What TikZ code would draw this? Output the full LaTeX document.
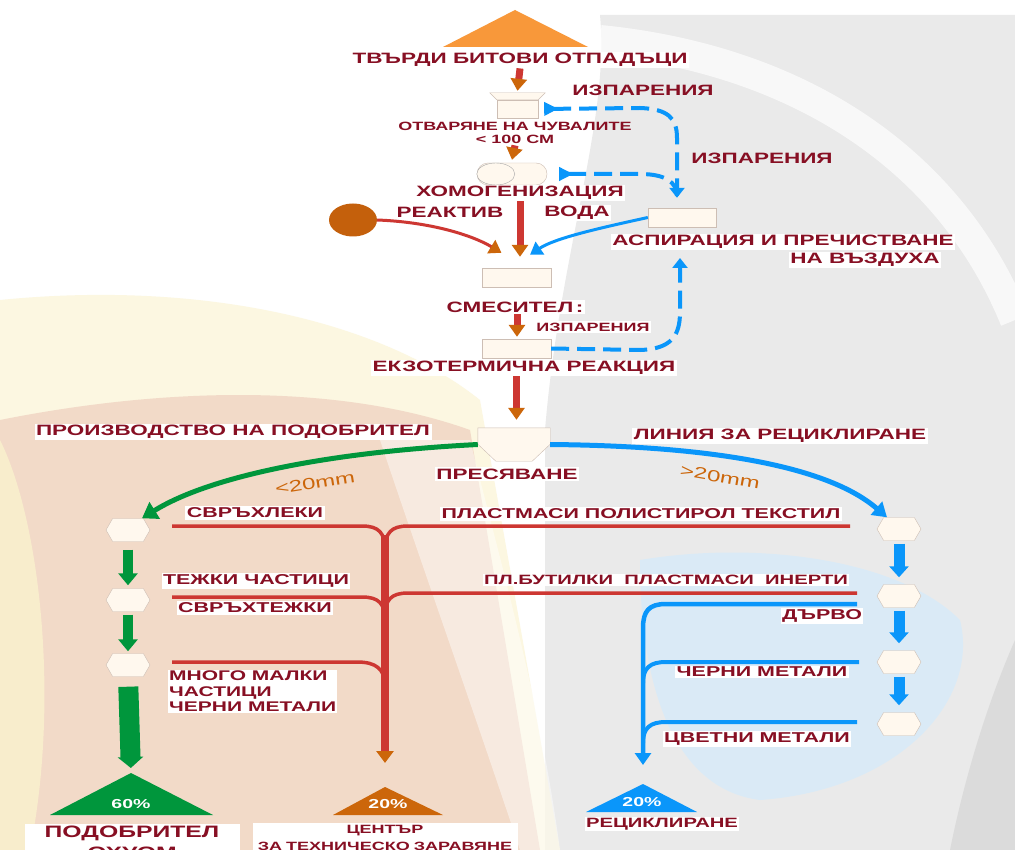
\documentclass[tikz,border=0pt]{standalone}
\usepackage{fontspec}
\newfontfamily\lblfont[FakeStretch=1.5]{Liberation Sans}
\usetikzlibrary{
        arrows.meta,
        positioning,
        shapes.geometric,
        shapes.symbols
    }
\definecolor{txtred}{RGB}{135,15,35}
\definecolor{linered}{RGB}{205,55,50}
\definecolor{headbrown}{RGB}{204,102,10}
\definecolor{flowblue}{RGB}{10,150,250}
\definecolor{flowgreen}{RGB}{0,150,60}
\definecolor{cream}{RGB}{255,248,238}
\definecolor{boxline}{RGB}{205,190,180}
\definecolor{wasteorange}{RGB}{248,152,58}
\definecolor{reagbrown}{RGB}{196,96,12}
\definecolor{bggrey}{RGB}{234,234,234}
\definecolor{warm}{RGB}{242,218,200}
\definecolor{paleyellow}{RGB}{250,242,205}
\definecolor{paleblue}{RGB}{214,234,250}
\tikzset{
    box/.style={draw=boxline, fill=cream, minimum width=69pt, minimum height=19pt, inner sep=0pt},
    hexbox/.style={signal, signal to=west and east, signal pointer angle=120, draw=boxline,
        fill=cream, minimum width=44pt, minimum height=23pt, inner sep=0pt},
    lbl/.style={font=\lblfont\bfseries\fontsize{15}{17}\selectfont, text=txtred, fill=white, inner sep=1.5pt},
    lbls/.style={lbl, font=\lblfont\bfseries\fontsize{14.3}{16}\selectfont},
    lblsm/.style={lbl, font=\lblfont\bfseries\fontsize{12}{13}\selectfont},
    pct/.style={font=\lblfont\bfseries\fontsize{13}{14}\selectfont, text=white, inner sep=0pt},
    mmtxt/.style={font=\lblfont\fontsize{16}{18}\selectfont, text=headbrown, inner sep=0pt},
    fatred/.style={draw=linered, line width=7pt, -{Triangle[width=16pt,length=12pt,color=headbrown]}},
    thinred/.style={draw=linered, line width=3pt, -{Triangle[width=15pt,length=12pt,color=headbrown]}},
    thinblue/.style={draw=flowblue, line width=3pt, -{Triangle[width=15pt,length=12pt]}},
    fume/.style={draw=flowblue, line width=4pt, dash pattern=on 18pt off 8pt},
    greencurve/.style={draw=flowgreen, line width=5pt, -{Triangle[width=19pt,length=15pt]}},
    bluecurve/.style={draw=flowblue, line width=5pt, -{Triangle[width=17pt,length=14pt]}},
    fatgreen/.style={draw=flowgreen, line width=10pt, -{Triangle[width=19pt,length=12pt]}},
    fatblue/.style={draw=flowblue, line width=11pt, -{Triangle[width=19pt,length=11pt]}},
    branchred/.style={draw=linered, line width=3.5pt},
    branchblue/.style={draw=flowblue, line width=4pt}
}

\begin{document}
\begin{tikzpicture}[x=1pt,y=-1pt]
\useasboundingbox (0,0) rectangle (1015,850);
% background
\fill[white] (0,0) rectangle (1015,850);
\fill[bggrey] (600,15) -- (1015,15) -- (1015,850) -- (545,850) -- (545,430)
    .. controls (560,250) and (610,120) .. (600,15) -- cycle;
\draw[white, line width=30pt, opacity=.7] (600,40) .. controls (800,60) and (950,160) .. (1015,320);
\fill[gray!35, opacity=.6] (1015,640) .. controls (980,720) and (960,800) .. (950,850) -- (1015,850) -- cycle;
\fill[paleyellow, opacity=.6] (0,300) .. controls (200,280) and (380,320) .. (480,400)
    -- (560,850) -- (0,850) -- cycle;
\fill[warm] (0,420) .. controls (150,390) and (330,380) .. (470,430)
    -- (540,850) -- (0,850) -- cycle;
\fill[paleyellow, opacity=.8] (0,440) .. controls (40,520) and (60,700) .. (30,850) -- (0,850) -- cycle;
\fill[white, opacity=.45] (380,440) .. controls (420,560) and (470,700) .. (520,850) -- (560,850)
    .. controls (540,700) and (500,560) .. (470,440) -- cycle;
\fill[paleblue, opacity=.8] (640,560) .. controls (760,540) and (900,560) .. (960,620)
    .. controls (980,700) and (900,790) .. (760,800) .. controls (680,790) and (640,700) .. (640,560) -- cycle;

% top part
\fill[wasteorange] (443,47) -- (515,10) -- (588,47) -- cycle;
\node[lbl] (waste) at (520,60) {ТВЪРДИ БИТОВИ ОТПАДЪЦИ};
\node[box, minimum width=41pt, minimum height=18pt] (hopper) at (517.5,109) {};
\draw[boxline, fill=cream] (hopper.north west) -- ++(-7,-7)
    -- ([shift={(7pt,7pt)}]hopper.north east) -- (hopper.north east) -- cycle;
\node[lblsm, align=center, fill=none] (open) at (515,133) {ОТВАРЯНЕ НА ЧУВАЛИТЕ\\< 100 СМ};
\node[draw=boxline, fill=cream, rounded corners=11pt, minimum width=70pt,
    minimum height=22pt, inner sep=0pt] (homog) at (512,174) {};
\draw[gray!70, fill=cream] ([xshift=19pt]homog.west) ellipse (19pt and 11pt);
\node[lbl] (homtxt) at (520,193) {ХОМОГЕНИЗАЦИЯ};
\node[lbl] (reagtxt) at (450,212) {РЕАКТИВ};
\node[lbl] (water) at (577,213) {ВОДА};
\node[ellipse, fill=reagbrown, minimum width=48pt, minimum height=33pt] (reag) at (353,220) {};
\node[box, minimum width=68pt] (asp) at (682,217.5) {};
\node[lbl] (asptxt) at (783,242) {АСПИРАЦИЯ И ПРЕЧИСТВАНЕ};
\node[lbl] (asptxt2) at (865,260) {НА ВЪЗДУХА};
\node[box] (mixer) at (516.5,277.5) {};
\node[lbl] (mixtxt) at (515,307) {СМЕСИТЕЛ\,:};
\node[lblsm] (fume3) at (593,327) {ИЗПАРЕНИЯ};
\node[box] (exo) at (516.5,348.5) {};
\node[lbl] (exotxt) at (524,368) {ЕКЗОТЕРМИЧНА РЕАКЦИЯ};
\node[lbl, fill=none] (fume1) at (643,90) {ИЗПАРЕНИЯ};
\node[lbl, fill=none] (fume2) at (762,158) {ИЗПАРЕНИЯ};
\coordinate (asplow) at (680,258);

\draw[fatred] (waste.south) -- ([yshift=9pt]hopper.north);
\draw[fatred] (open.south) -- ([yshift=3pt]homog.north);
\draw[thinred] (reag.east) .. controls (430,222) and (472,235) .. ([shift={(-15pt,15pt)}]mixer.north);
\draw[fatred, shorten >=11pt] (homtxt.south) -- (homtxt.south |- mixer.north);
\draw[thinblue] (asp.west) .. controls (600,228) and (555,238) .. ([shift={(13.5pt,13pt)}]mixer.north);
\draw[fatred, shorten >=2pt] ([xshift=2pt]mixtxt.south) -- ([xshift=2pt]mixtxt.south |- exo.north);
\draw[fume, -{Triangle[width=15pt,length=10pt]}] (exo.east) -- (640,350)
    .. controls (672,349) and (680,335) .. (680,312) -- (asplow);
\draw[fume, shorten <=6pt, shorten >=10pt, {Triangle[reversed,width=13pt,length=14pt]}-{Triangle[width=15pt,length=10pt]}]
    (hopper.east) -- (640,108) .. controls (668,109) and (677,118) .. (677,138) -- (asp.north -| 677,0);
\draw[fume, shorten <=12pt, {Triangle[reversed,width=13pt,length=14pt]}-]
    (homog.east) -- (640,174) .. controls (665,174) and (677,182) .. (677,196);

% screening
\node[minimum width=72pt, minimum height=33pt, inner sep=0pt] (sieve) at (514,444.5) {};
\draw[boxline, fill=cream] (sieve.north west) -- (sieve.north east)
    -- ([yshift=17pt]sieve.south east) -- ([xshift=-18pt]sieve.south east)
    -- ([xshift=18pt]sieve.south west) -- ([yshift=17pt]sieve.south west) -- cycle;
\draw[fatred] (exo.south |- exotxt.south) -- ([yshift=8pt]exo.south |- sieve.north);
\node[lbl] (sievetxt) at (507,474) {ПРЕСЯВАНЕ};
\node[lbl] (compline) at (233,432) {ПРОИЗВОДСТВО НА ПОДОБРИТЕЛ};
\node[lbl] (recline) at (780,436) {ЛИНИЯ ЗА РЕЦИКЛИРАНЕ};
\node[mmtxt, rotate=9] (small) at (315,483) {<20mm};
\node[mmtxt, rotate=-10] (large) at (720,477) {>20mm};

% hexagon columns
\node[hexbox] (g1) at (128,530) {};
\node[hexbox] (g2) at (128,600) {};
\node[hexbox] (g3) at (128,665) {};
\node[hexbox] (b1) at (899,529) {};
\node[hexbox] (b2) at (899,596) {};
\node[hexbox] (b3) at (899,662) {};
\node[hexbox] (b4) at (899,724) {};

\draw[greencurve] (sieve.west) .. controls (330,452) and (210,476) .. ([xshift=14pt]g1.north);
\draw[bluecurve] (sieve.east) .. controls (720,446) and (830,468) .. ([xshift=-12pt]b1.north);

\draw[fatgreen, shorten <=8pt, shorten >=3pt] (g1.south) -- (g2.north);
\draw[fatgreen, shorten <=3pt, shorten >=2pt] (g2.south) -- (g3.north);
\draw[fatblue, shorten <=3pt, shorten >=7pt] (b1.south) -- (b2.north);
\draw[fatblue, shorten <=3pt, shorten >=7pt] (b2.south) -- (b3.north);
\draw[fatblue, shorten <=3pt, shorten >=7pt] (b3.south) -- (b4.north);

% end triangles
\coordinate (soilapex) at (131,773);
\coordinate (landapex) at (385,787);
\coordinate (recapex) at (643,784);
\fill[flowgreen] (50,815) -- (soilapex) -- (213,815) -- cycle;
\fill[headbrown] (333,815) -- (landapex) -- (443,815) -- cycle;
\fill[flowblue] (586,812) -- (recapex) -- (697,812) -- cycle;
\node[pct] (pc60) at (131,804) {60\%};
\node[pct] (pc20a) at (388,804) {20\%};
\node[pct] (pc20b) at (642,802) {20\%};
\draw[draw=flowgreen, line width=20pt, shorten <=10pt, shorten >=5pt,
    -{Triangle[width=25pt,length=11pt]}] (g3.south) -- (soilapex);

% red tree
\coordinate (junction) at (385,535);
\coordinate (lbr1) at (172,526);
\coordinate (rbr1) at (850,526);
\coordinate (lbr2) at (172,597);
\coordinate (rbr2) at (857,593);
\coordinate (lbr3) at (172,662);
\draw[branchred] (lbr1) -- (362,526) .. controls (379,526) and (385,533) .. (385,550);
\draw[branchred] (rbr1) -- (408,526) .. controls (391,526) and (385,533) .. (385,550);
\draw[branchred] (lbr2) -- (362,597) .. controls (379,597) and (385,604) .. (385,620);
\draw[branchred] (rbr2) -- (408,593) .. controls (391,593) and (385,600) .. (385,616);
\draw[branchred] (lbr3) -- (357,662) .. controls (376,662) and (385,669) .. (385,686);
\draw[draw=linered, line width=8pt, shorten >=24pt,
    -{Triangle[width=17pt,length=12pt,color=headbrown]}] (junction) -- (landapex);

% blue tree
\coordinate (rb1) at (857,604);
\coordinate (rb2) at (859,662);
\coordinate (rb3) at (857,722);
\draw[branchblue, line width=4.5pt, shorten >=19pt, -{Triangle[width=16pt,length=12pt]}]
    (rb1) -- (666,604) .. controls (649,604) and (643,611) .. (643,628) -- (recapex);
\draw[branchblue] (rb2) -- (666,662) .. controls (650,662) and (643,668) .. (643,683);
\draw[branchblue] (rb3) -- (666,722) .. controls (650,722) and (643,728) .. (643,743);

% branch labels
\node[lbls] (ultralight) at (255,513) {СВРЪХЛЕКИ};
\node[lbls] (plastics) at (641,514) {ПЛАСТМАСИ ПОЛИСТИРОЛ ТЕКСТИЛ};
\node[lbls] (heavy) at (256,581) {ТЕЖКИ ЧАСТИЦИ};
\node[lbls, font=\lblfont\bfseries\fontsize{13.5}{16}\selectfont] (bottles) at (666,580) {ПЛ.БУТИЛКИ~~ПЛАСТМАСИ~~ИНЕРТИ};
\node[lbls] (ultraheavy) at (255,608) {СВРЪХТЕЖКИ};
\node[lbls] (wood) at (822,616) {ДЪРВО};
\node[lbls, align=left, anchor=north west, inner sep=1pt,
    font=\lblfont\bfseries\fontsize{14}{15.5}\selectfont] (fines) at (168,670) {МНОГО МАЛКИ\\ЧАСТИЦИ\\ЧЕРНИ МЕТАЛИ};
\node[lbls] (ferrous) at (762,672) {ЧЕРНИ МЕТАЛИ};
\node[lbls] (nonferrous) at (757,739) {ЦВЕТНИ МЕТАЛИ};

% outputs
\node[lbl, align=center, text width=211pt, inner sep=2pt,
    font=\lblfont\bfseries\fontsize{16.5}{21}\selectfont] (soil) at (132,842) {ПОДОБРИТЕЛ\\ОХУОМ};
\node[lbl, align=center, text width=261pt, inner sep=2pt,
    font=\lblfont\bfseries\fontsize{12}{17}\selectfont] (landfill) at (385,838) {ЦЕНТЪР\\ЗА ТЕХНИЧЕСКО ЗАРАВЯНЕ};
\node[lbls, font=\lblfont\bfseries\fontsize{13.5}{16}\selectfont] (recycle) at (662,824) {РЕЦИКЛИРАНЕ};
\end{tikzpicture}
\end{document}
